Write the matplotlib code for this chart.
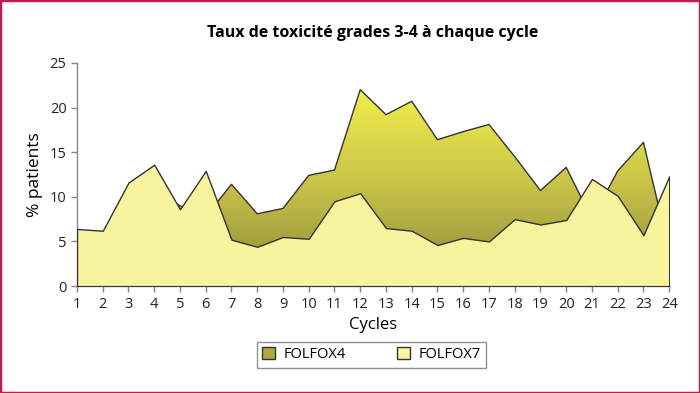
import matplotlib
matplotlib.use("Agg")
import matplotlib.pyplot as plt
import numpy as np
from matplotlib.colors import LinearSegmentedColormap
from matplotlib.patches import Rectangle, Patch

plt.rcParams['font.family'] = ['Open Sans', 'DejaVu Sans']

# data
cycles = list(range(1, 25))
folfox4 = [4.5, 5.0, 9.0, 10.5, 9.0, 7.8, 11.4, 8.1, 8.7, 12.4, 13.0, 22.0,
           19.2, 20.7, 16.4, 17.3, 18.1, 14.5, 10.7, 13.3, 7.5, 12.9, 16.1, 3.9]
folfox7 = [6.4, 6.2, 11.6, 13.6, 8.6, 12.9, 5.2, 4.4, 5.5, 5.3, 9.5, 10.4,
           6.5, 6.2, 4.6, 5.4, 5.0, 7.5, 6.9, 7.4, 12.0, 10.1, 5.7, 12.3]
yticks = [0, 5, 10, 15, 20, 25]

fig = plt.figure(figsize=(7, 3.93), dpi=100)
ax = fig.add_axes([0.11, 0.272, 0.846, 0.568])

# FOLFOX4: gradient fill clipped to its area
poly4 = ax.fill_between(cycles, folfox4, 0, facecolor='none', edgecolor='none')
cmap = LinearSegmentedColormap.from_list('olive', ['#8a883a', '#c8c248', '#f4f04c'])
grad = np.linspace(0, 1, 256).reshape(-1, 1)
im = ax.imshow(grad, cmap=cmap, aspect='auto', origin='lower',
               extent=[1, 24, 0, 22.5], zorder=1)
im.set_clip_path(poly4.get_paths()[0], transform=ax.transData)
ax.plot(cycles, folfox4, color='#333333', lw=1, zorder=2)

# FOLFOX7 in front
ax.fill_between(cycles, folfox7, 0, facecolor='#f8f49e', edgecolor='#333333',
                lw=1, zorder=3)

ax.set_xlim(1, 24)
ax.set_ylim(0, 25)
ax.set_xticks(cycles)
ax.set_yticks(yticks)
ax.tick_params(labelsize=10.5, colors='#222222', length=4, width=1)
ax.tick_params(axis='both', color='#888888')
for s in ['top', 'right']:
    ax.spines[s].set_visible(False)
for s in ['left', 'bottom']:
    ax.spines[s].set_color('#888888')
    ax.spines[s].set_linewidth(1)

ax.set_xlabel('Cycles', fontsize=12, labelpad=4)
ax.set_ylabel('% patients', fontsize=12.5, labelpad=5)
fig.text(0.532, 0.917, 'Taux de toxicité grades 3-4 à chaque cycle',
         ha='center', va='center', fontsize=11.5, fontweight='bold')

handles = [Patch(facecolor='#b0aa40', edgecolor='#333333', label='FOLFOX4'),
           Patch(facecolor='#f8f49e', edgecolor='#333333', label='FOLFOX7')]
leg = fig.legend(handles=handles, loc='center', bbox_to_anchor=(0.531, 0.097),
                 ncol=2, frameon=True, fancybox=False, fontsize=10.5,
                 columnspacing=3.5, handlelength=0.9, handleheight=0.9,
                 handletextpad=0.6, borderpad=0.35)
leg.get_frame().set_edgecolor('#777777')
leg.get_frame().set_linewidth(1)

fig.patches.append(Rectangle((0, 0), 1, 1, transform=fig.transFigure,
                             fill=False, edgecolor='#c21a4a', lw=2.5))

fig.savefig('out.png', dpi=100)
